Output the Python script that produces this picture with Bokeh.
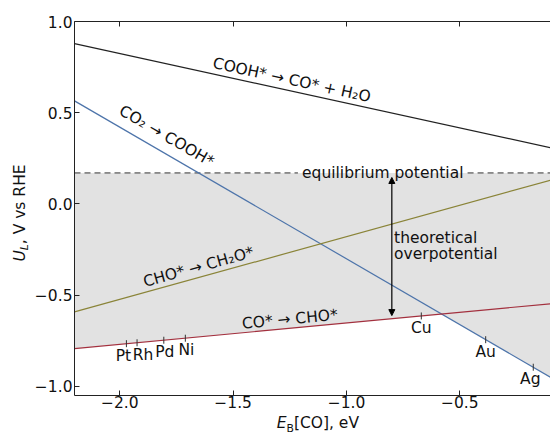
import math
from bokeh.plotting import figure
from bokeh.layouts import row, column
from bokeh.models import Range1d, LinearAxis, FixedTicker, Label, Arrow, NormalHead
from bokeh.embed import file_html
from bokeh.resources import INLINE

# ---------------- data ----------------
eb_ends = [-2.2, -0.1]                 # E_B[CO] at both ends of every line
ul_cooh_co = [0.879, 0.308]            # COOH* -> CO* + H2O
ul_co2_cooh = [0.565, -0.950]          # CO2 -> COOH*
ul_cho_ch2o = [-0.592, 0.130]          # CHO* -> CH2O*
ul_co_cho = [-0.793, -0.547]           # CO* -> CHO*
ul_equilibrium = 0.17

metals_a = ["Pt", "Rh", "Pd", "Ni", "Cu"]
eb_metals_a = [-1.971, -1.924, -1.806, -1.711, -0.670]
ul_metals_a = [-0.766, -0.761, -0.747, -0.736, -0.614]
metals_b = ["Au", "Ag"]
eb_metals_b = [-0.386, -0.176]
ul_metals_b = [-0.744, -0.895]

arrow_eb = -0.80
arrow_ul_top = 0.145
arrow_ul_bottom = -0.612

x_ticks = [-2.0, -1.5, -1.0, -0.5]
x_tick_labels = ["\u22122.0", "\u22121.5", "\u22121.0", "\u22120.5"]
y_ticks = [-1.0, -0.5, 0.0, 0.5, 1.0]
y_tick_labels = ["\u22121.0", "\u22120.5", "0.0", "0.5", "1.0"]

# ---------------- layout ----------------
TOTAL_W, TOTAL_H = 550, 434
YT_W = 31                     # strip holding the y-axis title
XT_H = 21                     # strip holding the x-axis title
MAIN_W = TOTAL_W - YT_W
MAIN_H = TOTAL_H - XT_H
B_LEFT, B_RIGHT, B_TOP, B_BOTTOM = 73 - YT_W, 0, 21, 18
FRAME_W = MAIN_W - B_LEFT - B_RIGHT
FRAME_H = MAIN_H - B_TOP - B_BOTTOM
X0, X1 = -2.2, -0.1
Y0, Y1 = -1.05, 1.0
SX = FRAME_W / (X1 - X0)
SY = FRAME_H / (Y1 - Y0)

FONT = "DejaVu Sans"
FS = "15.5px"
FS_SUB = "10.8px"
INK = "#111111"

p = figure(width=MAIN_W, height=MAIN_H, x_range=Range1d(X0, X1), y_range=Range1d(Y0, Y1),
           output_backend="svg", toolbar_location=None, title=None,
           min_border_left=B_LEFT, min_border_right=B_RIGHT,
           min_border_top=B_TOP, min_border_bottom=B_BOTTOM)
p.outline_line_color = None
p.grid.visible = False
p.background_fill_color = "white"
p.border_fill_color = "white"


def style_axis(ax):
    ax.axis_line_color = "#222222"
    ax.axis_line_width = 1
    ax.major_tick_line_color = "#222222"
    ax.major_tick_in = 5
    ax.major_tick_out = 0
    ax.minor_tick_line_color = None
    ax.major_label_text_font = FONT
    ax.major_label_text_font_size = FS
    ax.major_label_text_color = INK


xa = p.xaxis[0]
style_axis(xa)
xa.ticker = FixedTicker(ticks=x_ticks)
xa.major_label_overrides = {t: l for t, l in zip(x_ticks, x_tick_labels)}
xa.major_label_standoff = 0

ya = p.yaxis[0]
style_axis(ya)
ya.ticker = FixedTicker(ticks=y_ticks)
ya.major_label_overrides = {t: l for t, l in zip(y_ticks, y_tick_labels)}
ya.major_label_standoff = 2

top = LinearAxis(ticker=FixedTicker(ticks=x_ticks))
style_axis(top)
top.major_label_text_font_size = "1px"
top.major_label_text_color = None
top.major_label_standoff = 0
p.add_layout(top, "above")


def slope(ys):
    return (ys[1] - ys[0]) / (eb_ends[1] - eb_ends[0])


def line_at(ys, x):
    return ys[0] + slope(ys) * (x - eb_ends[0])


def screen_angle(ys):
    return math.atan(slope(ys) * SY / SX)


# shaded region between equilibrium potential and limiting potential
sa, sb = slope(ul_co_cho), slope(ul_co2_cooh)
xc = eb_ends[0] + (ul_co2_cooh[0] - ul_co_cho[0]) / (sa - sb)
yc = line_at(ul_co_cho, xc)
p.varea(x=[eb_ends[0], xc, eb_ends[1]],
        y1=[ul_co_cho[0], yc, ul_co2_cooh[1]],
        y2=[ul_equilibrium] * 3, fill_color="#e2e2e2", fill_alpha=1)

# equilibrium potential dashed line (broken around its label)
eq_label_x = -0.84
half = (81 + 4) / SX
p.line([X0, eq_label_x - half], [ul_equilibrium] * 2, line_color="#333333",
       line_width=1, line_dash="6 4")
p.line([eq_label_x + half, eb_ends[1]], [ul_equilibrium] * 2, line_color="#333333",
       line_width=1, line_dash="6 4")

# reaction lines
p.line(eb_ends, ul_cooh_co, line_color="#222222", line_width=1.2)
p.line(eb_ends, ul_co2_cooh, line_color="#4d74aa", line_width=1.2)
p.line(eb_ends, ul_cho_ch2o, line_color="#8a8438", line_width=1.2)
p.line(eb_ends, ul_co_cho, line_color="#a3303e", line_width=1.2)

# metal markers
p.scatter(eb_metals_a, ul_metals_a, marker="dash", angle=math.pi / 2, size=7,
          line_color="#333333", line_width=1)
p.scatter(eb_metals_b, ul_metals_b, marker="dash", angle=math.pi / 2, size=7,
          line_color="#333333", line_width=1)

metal_dx = {"Pt": -3, "Rh": 6, "Pd": 1, "Ni": 1, "Cu": 0, "Au": 0, "Ag": -3}
for name, xe, ue in list(zip(metals_a, eb_metals_a, ul_metals_a)) + list(zip(metals_b, eb_metals_b, ul_metals_b)):
    p.add_layout(Label(x=xe, y=ue, text=name, x_offset=metal_dx[name], y_offset=-12,
                       text_align="center", text_baseline="middle",
                       text_font=FONT, text_font_size=FS, text_color=INK))

# reaction labels
reaction_labels = [
    ("COOH* \u2192 CO* + H\u2082O", -1.241, 0.679, ul_cooh_co),
    ("CO\u2082 \u2192 COOH*", -1.793, 0.371, ul_co2_cooh),
    ("CHO* \u2192 CH\u2082O*", -1.653, -0.346, ul_cho_ch2o),
    ("CO* \u2192 CHO*", -1.250, -0.632, ul_co_cho),
]
for txt, lx, ly, ys in reaction_labels:
    p.add_layout(Label(x=lx, y=ly, text=txt, angle=screen_angle(ys),
                       text_align="center", text_baseline="middle",
                       text_font=FONT, text_font_size=FS, text_color=INK))

p.add_layout(Label(x=eq_label_x, y=ul_equilibrium, text="equilibrium potential",
                   text_align="center", text_baseline="middle",
                   text_font=FONT, text_font_size=FS, text_color=INK))

# theoretical overpotential arrow and text
p.add_layout(Arrow(start=NormalHead(size=6, fill_color="black", line_color="black"),
                   end=NormalHead(size=6, fill_color="black", line_color="black"),
                   x_start=arrow_eb, y_start=arrow_ul_bottom,
                   x_end=arrow_eb, y_end=arrow_ul_top,
                   line_color="black", line_width=1.2))
p.add_layout(Label(x=-0.790, y=-0.184, text="theoretical", text_align="left",
                   text_baseline="middle", text_font=FONT, text_font_size=FS,
                   text_color=INK))
p.add_layout(Label(x=-0.790, y=-0.276, text="overpotential", text_align="left",
                   text_baseline="middle", text_font=FONT, text_font_size=FS,
                   text_color=INK))


# ---------------- axis titles in their own strips ----------------
def title_strip(width, height, x_range, y_range, border_left=0):
    f = figure(width=width, height=height, x_range=x_range, y_range=y_range,
               output_backend="svg", toolbar_location=None, title=None,
               x_axis_location=None, y_axis_location=None,
               min_border_left=border_left, min_border_right=0,
               min_border_top=0, min_border_bottom=0)
    f.outline_line_color = None
    f.grid.visible = False
    f.background_fill_color = "white"
    f.border_fill_color = "white"
    return f


# y title: U_L, V vs RHE  (strip coordinates are pixels, origin bottom-left)
yt = title_strip(YT_W, TOTAL_H, Range1d(0, YT_W), Range1d(0, TOTAL_H))
ymid_x = 19.5
ystart = TOTAL_H - 261
yt.add_layout(Label(x=ymid_x, y=ystart, text="U", angle=math.pi / 2, text_align="left",
                    text_baseline="middle", text_font=FONT, text_font_size=FS,
                    text_font_style="italic", text_color=INK))
yt.add_layout(Label(x=ymid_x, y=ystart, x_offset=4.9, y_offset=11.3, text="L",
                    angle=math.pi / 2, text_align="left", text_baseline="middle",
                    text_font=FONT, text_font_size=FS_SUB, text_font_style="italic",
                    text_color=INK))
yt.add_layout(Label(x=ymid_x, y=ystart, y_offset=17.3, text=", V vs RHE",
                    angle=math.pi / 2, text_align="left", text_baseline="middle",
                    text_font=FONT, text_font_size=FS, text_color=INK))

# x title: E_B[CO], eV  (shares the main x range)
xt = title_strip(MAIN_W, XT_H, p.x_range, Range1d(0, XT_H), border_left=B_LEFT)
xstart = -1.308
xmid_y = 11.3
xt.add_layout(Label(x=xstart, y=xmid_y, text="E", text_align="left",
                    text_baseline="middle", text_font=FONT, text_font_size=FS,
                    text_font_style="italic", text_color=INK))
xt.add_layout(Label(x=xstart, y=xmid_y, x_offset=9.8, y_offset=-4.9, text="B",
                    text_align="left", text_baseline="middle", text_font=FONT,
                    text_font_size=FS_SUB, text_color=INK))
xt.add_layout(Label(x=xstart, y=xmid_y, x_offset=17.2, text="[CO], eV", text_align="left",
                    text_baseline="middle", text_font=FONT, text_font_size=FS,
                    text_color=INK))

layout = row(yt, column(p, xt))
open("out.html", "w").write(file_html(layout, INLINE))
